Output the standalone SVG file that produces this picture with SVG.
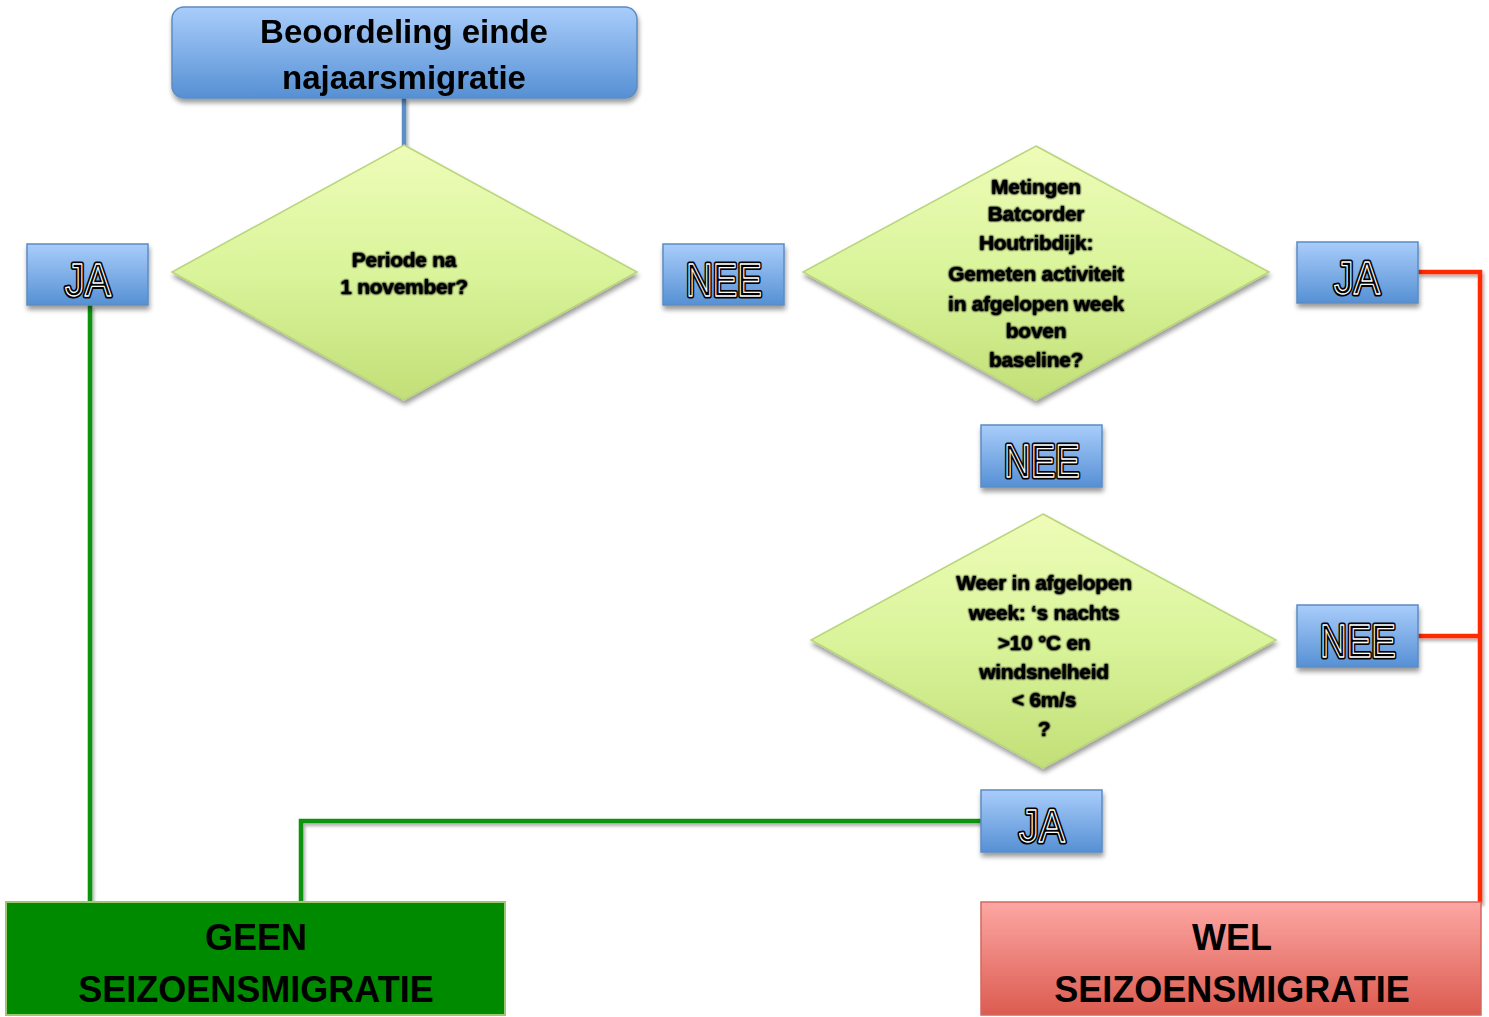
<svg xmlns="http://www.w3.org/2000/svg" width="1489" height="1017" viewBox="0 0 1489 1017">
<defs>
<linearGradient id="gBlue" x1="0" y1="0" x2="0" y2="1">
<stop offset="0" stop-color="#a9cdfb"/>
<stop offset="1" stop-color="#5690d4"/>
</linearGradient>
<linearGradient id="gGreenD" x1="0" y1="0" x2="0" y2="1">
<stop offset="0" stop-color="#eefcb8"/>
<stop offset="0.5" stop-color="#d9f49a"/>
<stop offset="1" stop-color="#c2df78"/>
</linearGradient>
<linearGradient id="gRed" x1="0" y1="0" x2="0" y2="1">
<stop offset="0" stop-color="#fda7a4"/>
<stop offset="1" stop-color="#dc5b50"/>
</linearGradient>
<filter id="shadow" x="-10%" y="-10%" width="125%" height="130%">
<feGaussianBlur in="SourceAlpha" stdDeviation="2.5"/>
<feOffset dx="1" dy="4" result="b"/>
<feComponentTransfer><feFuncA type="linear" slope="0.4"/></feComponentTransfer>
<feMerge><feMergeNode/><feMergeNode in="SourceGraphic"/></feMerge>
</filter>
<filter id="lshadow" x="-5%" y="-5%" width="110%" height="110%">
<feGaussianBlur in="SourceAlpha" stdDeviation="1.5"/>
<feOffset dx="2" dy="3"/>
<feComponentTransfer><feFuncA type="linear" slope="0.3"/></feComponentTransfer>
<feMerge><feMergeNode/><feMergeNode in="SourceGraphic"/></feMerge>
</filter>
<filter id="tshadow" x="-10%" y="-20%" width="120%" height="140%">
<feGaussianBlur in="SourceAlpha" stdDeviation="1.2"/>
<feMerge><feMergeNode/><feMergeNode/><feMergeNode in="SourceGraphic"/></feMerge>
</filter>
</defs>
<style>
.box{fill:url(#gBlue);stroke:#5b8cc4;stroke-width:1.5}
.dia{fill:url(#gGreenD);stroke:#b9d57a;stroke-width:1.5}
.title{font-family:"Liberation Sans",Arial,sans-serif;font-weight:bold;font-size:33px;fill:#000;text-anchor:middle}
.big{font-family:"Liberation Sans",Arial,sans-serif;font-weight:bold;font-size:36px;fill:#000;text-anchor:middle}
.q{font-family:"Liberation Sans",Arial,sans-serif;font-weight:bold;font-size:21px;fill:#000;text-anchor:middle;letter-spacing:-0.3px}
.lblO{font-family:"Liberation Sans",Arial,sans-serif;font-size:46px;fill:#000;stroke:#000;stroke-width:5;stroke-linejoin:round;text-anchor:middle}
.lblI{font-family:"Liberation Sans",Arial,sans-serif;font-size:46px;fill:#000;stroke:#fff;stroke-width:1.3;stroke-linejoin:round;text-anchor:middle}
.cg{fill:none;stroke:#0a930a;stroke-width:4.5}
.cr{fill:none;stroke:#ff2a00;stroke-width:4.5}
.cb{fill:none;stroke:#5b8ec5;stroke-width:4.5}
</style>

<g id="connectors" filter="url(#lshadow)">
<path class="cb" d="M404 98 V146"/>
<path class="cg" d="M90 305 V903"/>
<path class="cg" d="M981 821 H301 V903"/>
<path class="cr" d="M1418 272 H1480 V903"/>
<path class="cr" d="M1418 636 H1480"/>
</g>

<g id="start" filter="url(#shadow)">
<rect class="box" x="172" y="7" width="465" height="91" rx="12"/>
<text class="title" x="404" y="43">Beoordeling einde</text>
<text class="title" x="404" y="89">najaarsmigratie</text>
</g>

<g id="q1">
<polygon class="dia" points="404,145 637,272 404,400 172,272" filter="url(#shadow)"/>
<g filter="url(#tshadow)">
<text class="q" x="404" y="267">Periode na</text>
<text class="q" x="404" y="294">1 november?</text>
</g>
</g>

<g id="ja1">
<rect class="box" x="27" y="244" width="121" height="61" filter="url(#shadow)"/>
<text class="lblO" x="88" y="296" textLength="46" lengthAdjust="spacingAndGlyphs">JA</text>
<text class="lblI" x="88" y="296" textLength="46" lengthAdjust="spacingAndGlyphs">JA</text>
</g>

<g id="nee1">
<rect class="box" x="663" y="244" width="121" height="61" filter="url(#shadow)"/>
<text class="lblO" x="724" y="296" textLength="76" lengthAdjust="spacingAndGlyphs">NEE</text>
<text class="lblI" x="724" y="296" textLength="76" lengthAdjust="spacingAndGlyphs">NEE</text>
</g>

<g id="q2">
<polygon class="dia" points="1036,146 1269,272 1036,400 803,272" filter="url(#shadow)"/>
<g filter="url(#tshadow)">
<text class="q" x="1036" y="194">Metingen</text>
<text class="q" x="1036" y="221">Batcorder</text>
<text class="q" x="1036" y="250">Houtribdijk:</text>
<text class="q" x="1036" y="281">Gemeten activiteit</text>
<text class="q" x="1036" y="311">in afgelopen week</text>
<text class="q" x="1036" y="338">boven</text>
<text class="q" x="1036" y="367">baseline?</text>
</g>
</g>

<g id="ja2">
<rect class="box" x="1297" y="242" width="121" height="61" filter="url(#shadow)"/>
<text class="lblO" x="1357" y="294" textLength="46" lengthAdjust="spacingAndGlyphs">JA</text>
<text class="lblI" x="1357" y="294" textLength="46" lengthAdjust="spacingAndGlyphs">JA</text>
</g>

<g id="nee2">
<rect class="box" x="981" y="425" width="121" height="62" filter="url(#shadow)"/>
<text class="lblO" x="1042" y="477" textLength="76" lengthAdjust="spacingAndGlyphs">NEE</text>
<text class="lblI" x="1042" y="477" textLength="76" lengthAdjust="spacingAndGlyphs">NEE</text>
</g>

<g id="q3">
<polygon class="dia" points="1043,514 1276,640 1043,768 811,640" filter="url(#shadow)"/>
<g filter="url(#tshadow)">
<text class="q" x="1044" y="590">Weer in afgelopen</text>
<text class="q" x="1044" y="620">week: ‘s nachts</text>
<text class="q" x="1044" y="650">&gt;10 °C en</text>
<text class="q" x="1044" y="679">windsnelheid</text>
<text class="q" x="1044" y="707">&lt; 6m/s</text>
<text class="q" x="1044" y="736">?</text>
</g>
</g>

<g id="nee3">
<rect class="box" x="1297" y="605" width="121" height="62" filter="url(#shadow)"/>
<text class="lblO" x="1358" y="657" textLength="76" lengthAdjust="spacingAndGlyphs">NEE</text>
<text class="lblI" x="1358" y="657" textLength="76" lengthAdjust="spacingAndGlyphs">NEE</text>
</g>

<g id="ja3">
<rect class="box" x="981" y="790" width="121" height="62" filter="url(#shadow)"/>
<text class="lblO" x="1042" y="842" textLength="46" lengthAdjust="spacingAndGlyphs">JA</text>
<text class="lblI" x="1042" y="842" textLength="46" lengthAdjust="spacingAndGlyphs">JA</text>
</g>

<g id="geen">
<rect x="6" y="902" width="499" height="113" fill="#008a00" stroke="#9cc870" stroke-width="2"/>
<text class="big" x="256" y="950">GEEN</text>
<text class="big" x="256" y="1002">SEIZOENSMIGRATIE</text>
</g>

<g id="wel">
<rect x="981" y="902" width="500" height="113" fill="url(#gRed)" stroke="#d2685f" stroke-width="1.5"/>
<text class="big" x="1232" y="950">WEL</text>
<text class="big" x="1232" y="1002">SEIZOENSMIGRATIE</text>
</g>
</svg>
